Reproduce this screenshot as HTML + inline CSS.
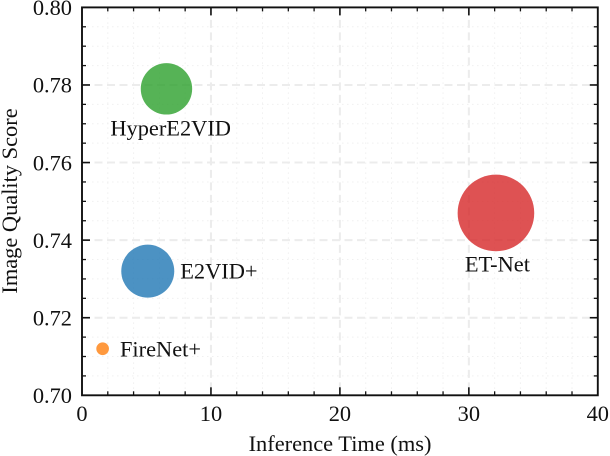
<!DOCTYPE html>
<html>
<head>
<meta charset="utf-8">
<style>
html,body{margin:0;padding:0;background:#fff;}
svg{display:block;}
text{font-family:"Liberation Serif",serif;fill:#111;}
</style>
</head>
<body>
<svg id="chart" xmlns="http://www.w3.org/2000/svg" width="610" height="456" viewBox="0 0 610 456"></svg>
<script>
const methods = ['FireNet+', 'E2VID+', 'HyperE2VID', 'ET-Net'];
const inferenceTimes = [1.6, 5.1, 6.55, 32.1];
const qualityScores = [0.712, 0.732, 0.779, 0.747];
const bubbleSizes = [40, 702, 660, 1467];
const bubbleColors = ['#ff7f0e', '#1f77b4', '#2ca02c', '#d62728'];
const labelPlacements = ['right-far', 'right', 'below-right', 'below'];
const xTickLabels = ['0', '10', '20', '30', '40'];
const yTickLabels = ['0.70', '0.72', '0.74', '0.76', '0.78', '0.80'];

const L = 82, R = 597.8, T = 7.4, B = 395.3;
const xMin = 0, xMax = 40, yMin = 0.70, yMax = 0.80;
const xScale = v => L + (v - xMin) / (xMax - xMin) * (R - L);
const yScale = v => B - (v - yMin) / (yMax - yMin) * (B - T);
const rScale = s => Math.sqrt(s);
const svg = document.getElementById('chart');
const NS = 'http://www.w3.org/2000/svg';

function make(tag, attrs, text) {
  const el = document.createElementNS(NS, tag);
  for (const k in attrs) el.setAttribute(k, attrs[k]);
  if (text !== undefined) el.textContent = text;
  svg.appendChild(el);
  return el;
}
function line(x1, y1, x2, y2, stroke, width, dash) {
  const a = {x1, y1, x2, y2, stroke, 'stroke-width': width};
  if (dash) a['stroke-dasharray'] = dash;
  return make('line', a);
}

const xStep = 2, yStep = 0.005;
const xCount = Math.round((xMax - xMin) / xStep);
const yCount = Math.round((yMax - yMin) / yStep);

/* minor grid */
for (let i = 1; i < xCount; i++) {
  if (i % 5 === 0) continue;
  const x = xScale(xMin + i * xStep);
  const g = line(x, T, x, B, '#f0f0f0', 1, '1.5 3.5');
  
  
}
for (let i = 1; i < yCount; i++) {
  if (i % 4 === 0) continue;
  const y = yScale(yMin + i * yStep);
  const g = line(L, y, R, y, '#f0f0f0', 1, '1.5 3.5');
  
  
}
/* major grid */
xTickLabels.forEach(t => {
  const v = Number(t);
  if (v === xMin || v === xMax) return;
  const g = line(xScale(v), T, xScale(v), B, '#ececec', 2, '8 4.5');
  
  
});
yTickLabels.forEach(t => {
  const v = Number(t);
  if (v === yMin || v === yMax) return;
  const g = line(L, yScale(v), R, yScale(v), '#ececec', 2, '8 4.5');
  
  
});

/* bubbles and labels */
methods.forEach((name, i) => {
  const cx = xScale(inferenceTimes[i]);
  const cy = yScale(qualityScores[i]);
  const r = rScale(bubbleSizes[i]);
  const c = make('circle', {cx, cy, r, fill: bubbleColors[i], 'fill-opacity': 0.8});
  
  
  const place = labelPlacements[i];
  let attrs;
  if (place === 'right') attrs = {x: cx + r + 6, y: cy + 7.5, 'text-anchor': 'start'};
  else if (place === 'right-far') attrs = {x: cx + r + 11, y: cy + 7.5, 'text-anchor': 'start'};
  else if (place === 'below-right') attrs = {x: cx + 4.2, y: cy + r + 21, 'text-anchor': 'middle'};
  else attrs = {x: cx + 1.5, y: cy + r + 20, 'text-anchor': 'middle'};
  attrs['font-size'] = 22.4;
  const t = make('text', attrs, name);
  
  
});

/* ticks */
for (let i = 1; i < xCount; i++) {
  const x = xScale(xMin + i * xStep);
  const len = i % 5 === 0 ? 8 : 4;
  const w = i % 5 === 0 ? 1.6 : 1.3;
  const a = line(x, B, x, B - len, '#111', w);
  
  
  const b = line(x, T, x, T + len, '#111', w);
  
  
}
for (let i = 1; i < yCount; i++) {
  const y = yScale(yMin + i * yStep);
  const len = i % 4 === 0 ? 8 : 4;
  const w = i % 4 === 0 ? 1.6 : 1.3;
  const a = line(L, y, L + len, y, '#111', w);
  
  
  const b = line(R, y, R - len, y, '#111', w);
  
  
}

/* frame */
const frame = make('rect', {x: L, y: T, width: R - L, height: B - T, fill: 'none', stroke: '#111', 'stroke-width': 1.9});



/* tick labels */
xTickLabels.forEach(t => {
  const el = make('text', {x: xScale(Number(t)), y: 421, 'text-anchor': 'middle', 'font-size': 22.4}, t);
  
  
});
yTickLabels.forEach(t => {
  const el = make('text', {x: 72, y: yScale(Number(t)) + 7.7, 'text-anchor': 'end', 'font-size': 22.4}, t);
  
  
});

/* axis titles */
const xTitle = make('text', {x: 340, y: 451, 'text-anchor': 'middle', 'font-size': 22.4}, 'Inference Time (ms)');


const yTitle = make('text', {x: 0, y: 0, 'text-anchor': 'middle', 'font-size': 22.4, transform: 'translate(17 201) rotate(-90)'}, 'Image Quality Score');


</script>
</body>
</html>
